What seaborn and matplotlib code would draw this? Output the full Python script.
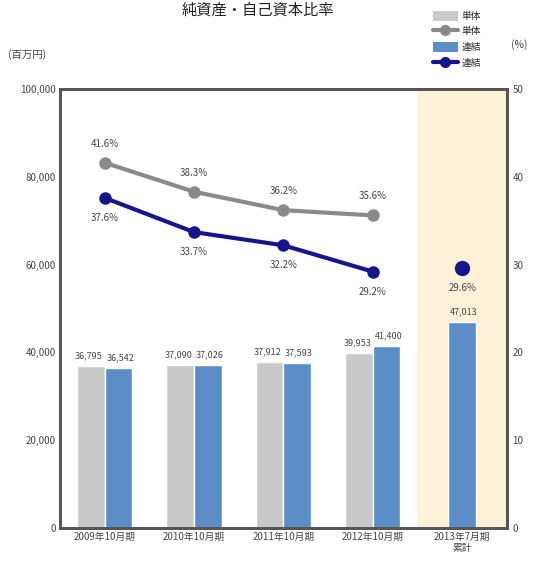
import matplotlib
matplotlib.use("Agg")
import matplotlib.pyplot as plt
import seaborn as sns
import pandas as pd
import numpy as np
from matplotlib.patches import Patch
from matplotlib.lines import Line2D

categories = ["2009年10月期", "2010年10月期", "2011年10月期", "2012年10月期", "2013年7月期\n累計"]
equity_single = [36795, 37090, 37912, 39953, np.nan]
equity_consol = [36542, 37026, 37593, 41400, 47013]
ratio_single = [41.6, 38.3, 36.2, 35.6, np.nan]
ratio_consol = [37.6, 33.7, 32.2, 29.2, 29.6]
left_ticks = [0, 20000, 40000, 60000, 80000, 100000]
right_ticks = [0, 10, 20, 30, 40, 50]

sns.set_style("white")
plt.rcParams["font.family"] = ["Noto Sans CJK JP", "DejaVu Sans"]

C_SINGLE_BAR = "#c9c9c9"
C_CONSOL_BAR = "#5b8ec6"
C_SINGLE_LINE = "#8a8a8a"
C_CONSOL_LINE = "#16168c"
C_TEXT = "#444444"
FS = 7

fig = plt.figure(figsize=(5.38, 5.73), dpi=100)
ax = fig.add_axes([0.1115, 0.0785, 0.8305, 0.7662])

df = pd.DataFrame({
    "期": categories * 2,
    "区分": ["単体"] * 5 + ["連結"] * 5,
    "純資産": equity_single + equity_consol,
})
sns.barplot(data=df, x="期", y="純資産", hue="区分",
            palette=[C_SINGLE_BAR, C_CONSOL_BAR], width=0.62, gap=0.0,
            ax=ax, legend=False, saturation=1, zorder=2)

# Bars grouped by hue: first the 単体 series, then the 連結 series
bars = [p for p in ax.patches if np.isfinite(p.get_height()) and p.get_height() > 0]
single_bars = bars[:4]
consol_bars = bars[4:]
# The last period has only a consolidated value: center it in its slot
last = consol_bars[-1]
last.set_x(4 - last.get_width() / 2)

# Highlight of the partial-year period
ax.axvspan(3.5, 4.5, color="#fdf1d8", zorder=0, lw=0)

for p, v in zip(single_bars, equity_single[:4]):
    ax.text(p.get_x() + p.get_width() / 2 - 0.02, v + 1300, f"{v:,.0f}",
            ha="center", va="bottom", fontsize=6.5, color=C_TEXT)
for p, v in zip(consol_bars, equity_consol):
    ax.text(p.get_x() + p.get_width() / 2 + 0.02, v + 1300, f"{v:,.0f}",
            ha="center", va="bottom", fontsize=6.5, color=C_TEXT)

ax.set_ylim(0, 100000)
ax.set_xlim(-0.5, 4.5)
ax.set_yticks(left_ticks)
ax.set_yticklabels([f"{t:,}" for t in left_ticks], fontsize=FS, color=C_TEXT)
ax.set_xticks(range(5))
ax.set_xticklabels(categories, fontsize=FS, color=C_TEXT, linespacing=1.1)
ax.set_xlabel("")
ax.set_ylabel("")
ax.tick_params(axis="both", length=0, pad=3)

ax2 = ax.twinx()
x = np.arange(5)
sns.lineplot(x=x[:4], y=ratio_single[:4], color=C_SINGLE_LINE, lw=3,
             marker="o", markersize=9, markeredgewidth=0, ax=ax2, zorder=3)
sns.lineplot(x=x[:4], y=ratio_consol[:4], color=C_CONSOL_LINE, lw=3,
             marker="o", markersize=9, markeredgewidth=0, ax=ax2, zorder=4)
ax2.plot([4], [ratio_consol[4]], "o", color=C_CONSOL_LINE, markersize=10, zorder=4)
ax2.set_ylim(0, 50)
ax2.set_xlim(-0.5, 4.5)
ax2.set_yticks(right_ticks)
ax2.set_yticklabels([str(t) for t in right_ticks], fontsize=FS, color=C_TEXT)
ax2.tick_params(axis="y", length=0, pad=4)

for i, v in enumerate(ratio_single[:4]):
    ax2.text(i, v + 1.6, f"{v:.1f}%", ha="center", va="bottom", fontsize=FS, color=C_TEXT)
for i, v in enumerate(ratio_consol):
    ax2.text(i, v - 1.7, f"{v:.1f}%", ha="center", va="top", fontsize=FS, color=C_TEXT)

for a in (ax, ax2):
    for s in a.spines.values():
        s.set_color("#555555")
        s.set_linewidth(2)

fig.text(0.015, 0.905, "(百万円)", fontsize=7.5, color=C_TEXT, ha="left", va="center")
fig.text(0.965, 0.923, "(%)", fontsize=7.5, color=C_TEXT, ha="center", va="center")
fig.text(0.48, 0.982, "純資産・自己資本比率", fontsize=11, color="#222222",
         ha="center", va="center")

handles = [
    Patch(facecolor=C_SINGLE_BAR, edgecolor="none"),
    Line2D([0], [0], color=C_SINGLE_LINE, lw=3, marker="o", markersize=7),
    Patch(facecolor=C_CONSOL_BAR, edgecolor="none"),
    Line2D([0], [0], color=C_CONSOL_LINE, lw=3, marker="o", markersize=7),
]
fig.legend(handles, ["単体", "単体", "連結", "連結"], loc="upper left",
           bbox_to_anchor=(0.795, 0.99), frameon=False, fontsize=FS,
           handlelength=2.6, handleheight=1.2, labelspacing=0.55,
           handletextpad=0.4, borderpad=0)

fig.savefig("out.png", dpi=100)
